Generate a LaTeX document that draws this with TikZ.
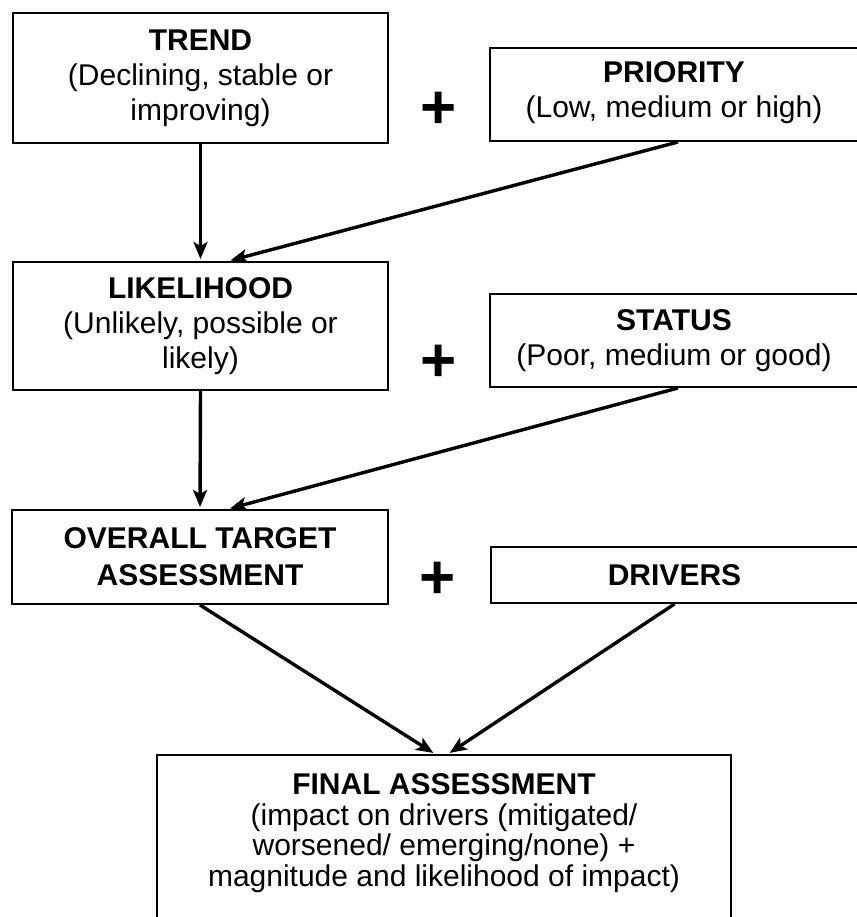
\documentclass[tikz,border=0pt]{standalone}
\usepackage{fontspec}
\setmainfont{Liberation Sans}
\usetikzlibrary{arrows.meta}
\tikzset{
  box/.style={draw=black, line width=2pt, rectangle, inner sep=0pt, align=center,
    font=\fontsize{30}{35}\selectfont},
  plussign/.style={inner sep=0pt, font=\bfseries\fontsize{62}{62}\selectfont},
  conn/.style={line width=3.4pt, -{Stealth[length=17pt,width=14pt,inset=4pt]}, shorten >=2pt}
}
\begin{document}
\begin{tikzpicture}[x=1pt,y=-1pt]
\useasboundingbox (0,0) rectangle (856,917);
\fill[white] (0,0) rectangle (856,917);
% boxes
\node[box, minimum width=375pt, minimum height=130pt] (trend) at (200.5,78)
  {\textbf{TREND}\\(Declining, stable or\\improving)};
\node[box, minimum width=368pt, minimum height=93pt] (prio) at (674,94.5)
  {\textbf{PRIORITY}\\(Low, medium or high)\\[-26pt]};
\node[box, minimum width=375pt, minimum height=128pt] (lik) at (200.5,326)
  {\textbf{LIKELIHOOD}\\(Unlikely, possible or\\likely)};
\node[box, minimum width=368pt, minimum height=93pt] (stat) at (674,340.5)
  {\textbf{STATUS}\\(Poor, medium or good)};
\node[box, minimum width=376pt, minimum height=94pt, font=\fontsize{30}{37}\selectfont] (ov) at (200,557)
  {\textbf{OVERALL TARGET}\\\textbf{ASSESSMENT}};
\node[box, minimum width=368pt, minimum height=56pt] (drv) at (674.5,575)
  {\textbf{DRIVERS}};
\node[box, minimum width=574pt, minimum height=170pt] (fin) at (444,840) {};
\node[inner sep=0pt, align=center, font=\fontsize{30}{30.5}\selectfont] (fintext) at (444,833)
  {\textbf{FINAL ASSESSMENT}\\(impact on drivers (mitigated/\\worsened/ emerging/none) +\\magnitude and likelihood of impact)};
% plus signs
\node[plussign] (p1) at (439,110) {+};
\node[plussign] (p2) at (439,363) {+};
\node[plussign] (p3) at (438,580) {+};
% connectors
\draw[conn] (trend.south) -- (lik.north);
\draw[conn] ([xshift=4pt]prio.south) -- ([xshift=28pt]lik.north);
\draw[conn] (lik.south) -- (ov.north);
\draw[conn] ([xshift=4pt]stat.south) -- ([xshift=28pt]ov.north);
\draw[conn] (ov.south) -- ([xshift=-9pt]fin.north);
\draw[conn] (drv.south) -- ([xshift=4pt]fin.north);
\end{tikzpicture}
\end{document}
